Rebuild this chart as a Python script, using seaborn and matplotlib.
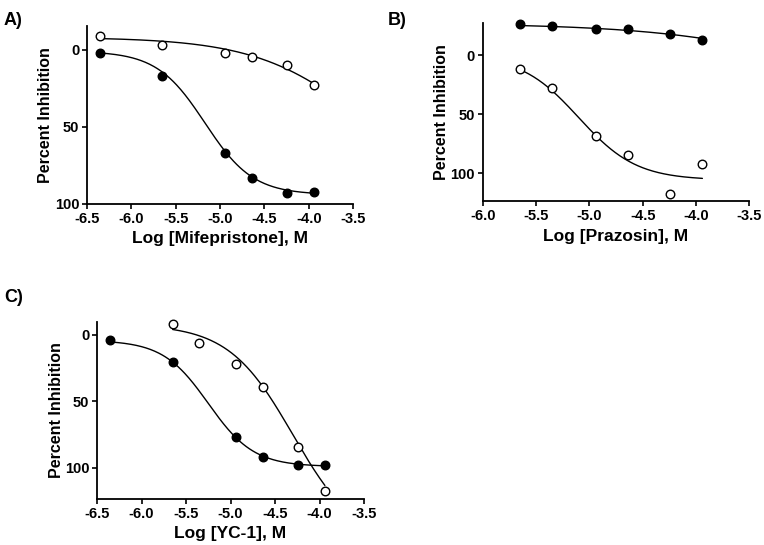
import numpy as np
import matplotlib
matplotlib.use("Agg")
import matplotlib.pyplot as plt
import seaborn as sns

# log molar concentrations
x_a = [-6.35, -5.65, -4.94, -4.64, -4.24, -3.94]
x_b = [-5.65, -5.35, -4.94, -4.64, -4.24, -3.94]
x_c_filled = [-6.35, -5.65, -4.94, -4.64, -4.24, -3.94]
x_c_open = [-5.65, -5.35, -4.94, -4.64, -4.24, -3.94]

# percent inhibition
a_filled = [2, 17, 67, 83, 93, 92]
a_open = [-9, -3, 2, 5, 10, 23]
b_filled = [-26, -24.5, -22, -22.5, -18, -13]
b_open = [12, 28, 69, 85, 118, 92]
c_filled = [4, 20, 77, 92, 98, 98]
c_open = [-8, 6, 22, 39, 84, 117]

# sigmoidal fit parameters (top, bottom, logIC50, hill) as drawn in the figure
fit_a_filled = (1, 94, -5.17, 1.6)
fit_a_open = (-8, 100, -3.35, 0.7)
fit_b_filled = (-27, 100, -2.05, 0.5)
fit_b_open = (0, 106, -5.10, 1.6)
fit_c_filled = (4, 99, -5.25, 1.7)
fit_c_open = (-8, 158, -4.30, 1.2)


def logistic(x, top, bottom, logic50, hill):
    return top + (bottom - top) / (1 + 10 ** ((logic50 - x) * hill))


def panel(ax, xs, ys, fits, fills, xlim, ylim, xticks, xlabel):
    for x, y, fit, fill in zip(xs, ys, fits, fills):
        xx = np.linspace(min(x), max(x), 200)
        sns.lineplot(x=xx, y=logistic(xx, *fit), ax=ax, color="black", lw=1.0)
        sns.scatterplot(x=x, y=y, ax=ax, s=38, color=fill, edgecolor="black",
                        linewidth=1.0, zorder=3, clip_on=False)
    ax.set_xlim(*xlim)
    ax.set_ylim(*ylim)
    ax.set_xticks(xticks)
    ax.set_xticklabels([f"{t:.1f}" for t in xticks])
    ax.set_yticks([0, 50, 100])
    ax.set_xlabel(xlabel, fontsize=12.5, fontweight="bold", labelpad=4)
    ax.set_ylabel("Percent Inhibition", fontsize=11.5, fontweight="bold", labelpad=1)
    ax.tick_params(labelsize=10.5, length=3.5, width=1.2, pad=2, colors="black")
    for lbl in ax.get_xticklabels() + ax.get_yticklabels():
        lbl.set_fontweight("bold")
    sns.despine(ax=ax)
    for s in ["left", "bottom"]:
        ax.spines[s].set_linewidth(1.3)
        ax.spines[s].set_color("black")


sns.set_style("ticks")
plt.rcParams["font.family"] = ["Liberation Sans", "DejaVu Sans"]
plt.rcParams["text.color"] = "black"
plt.rcParams["axes.labelcolor"] = "black"

fig = plt.figure(figsize=(7.64, 5.45), dpi=100)
ax_a = fig.add_axes([0.1139, 0.6257, 0.3482, 0.3266])
ax_b = fig.add_axes([0.6318, 0.6306, 0.3490, 0.3277])
ax_c = fig.add_axes([0.1270, 0.0839, 0.3495, 0.3259])

ticks_65 = [-6.5, -6.0, -5.5, -5.0, -4.5, -4.0, -3.5]
ticks_60 = [-6.0, -5.5, -5.0, -4.5, -4.0, -3.5]

panel(ax_a, [x_a, x_a], [a_open, a_filled], [fit_a_open, fit_a_filled],
      ["white", "black"], (-6.5, -3.5), (100, -15.3), ticks_65,
      "Log [Mifepristone], M")
panel(ax_b, [x_b, x_b], [b_filled, b_open], [fit_b_filled, fit_b_open],
      ["black", "white"], (-6.0, -3.5), (124, -27.4), ticks_60,
      "Log [Prazosin], M")
panel(ax_c, [x_c_filled, x_c_open], [c_filled, c_open], [fit_c_filled, fit_c_open],
      ["black", "white"], (-6.5, -3.5), (123.6, -10), ticks_65,
      "Log [YC-1], M")

fig.text(0.005, 0.955, "A)", fontsize=13, fontweight="bold")
fig.text(0.508, 0.955, "B)", fontsize=13, fontweight="bold")
fig.text(0.005, 0.445, "C)", fontsize=13, fontweight="bold")

fig.savefig("out.png", dpi=100)
